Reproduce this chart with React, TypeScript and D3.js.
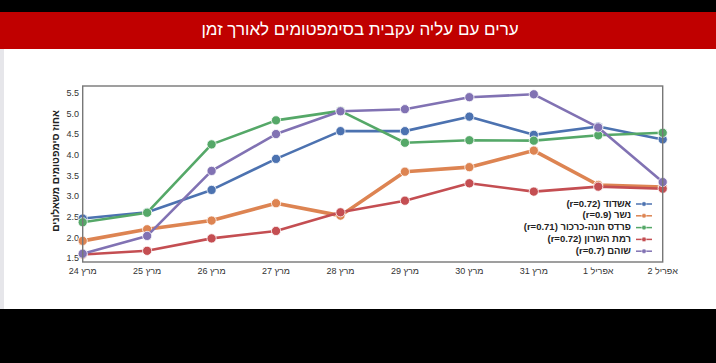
import * as React from 'react'
import * as d3 from 'd3'

const DATES = ['מרץ 24', 'מרץ 25', 'מרץ 26', 'מרץ 27', 'מרץ 28', 'מרץ 29', 'מרץ 30', 'מרץ 31', 'אפריל 1', 'אפריל 2']
const Y_TICKS = [1.5, 2.0, 2.5, 3.0, 3.5, 4.0, 4.5, 5.0, 5.5]

const ashdod = [2.48, 2.63, 3.17, 3.92, 4.59, 4.59, 4.94, 4.50, 4.70, 4.39]
const nesher = [1.94, 2.22, 2.43, 2.85, 2.55, 3.61, 3.72, 4.12, 3.29, 3.24]
const pardesHana = [2.39, 2.62, 4.27, 4.85, 5.08, 4.31, 4.37, 4.36, 4.49, 4.55]
const ramatHasharon = [1.61, 1.70, 2.00, 2.18, 2.63, 2.91, 3.33, 3.13, 3.25, 3.20]
const shoham = [1.63, 2.06, 3.63, 4.52, 5.07, 5.12, 5.41, 5.48, 4.68, 3.36]

const SERIES_NAMES = ['אשדוד (r=0.72)', 'נשר (r=0.9)', 'פרדס חנה-כרכור (r=0.71)', 'רמת השרון (r=0.72)', 'שוהם (r=0.7)']
const SERIES_VALUES = [ashdod, nesher, pardesHana, ramatHasharon, shoham]
const COLORS = ['#4C72B0', '#DD8452', '#55A868', '#C44E52', '#8172B3']

const TITLE = 'ערים עם עליה עקבית בסימפטומים לאורך זמן'
const Y_LABEL = 'אחוז סימפטומים משאלונים'

// bidi: put the (r=..) part first so it lands on the left like the original
const legendText = (s: string) => {
    const i = s.indexOf(' (')
    return s.slice(i + 1) + ' ' + s.slice(0, i)
}

export default function App() {
    const W = 716
    const H = 363
    const left = 82.7
    const right = 662.7
    const top = 86
    const bottom = 262
    const FONT = '"Liberation Sans", Arial, sans-serif'

    const x = d3.scalePoint<string>().domain(DATES).range([left, right])
    const y = d3.scaleLinear().domain([1.43, 5.68]).range([bottom, top])

    const line = d3.line<number>()
        .x((_, i) => x(DATES[i]) as number)
        .y(d => y(d))

    return <svg width={W} height={H} viewBox={`0 0 ${W} ${H}`}
        style={{ position: 'absolute', left: 0, top: 0, background: '#fff' }}
        fontFamily={FONT}>
        <rect x={0} y={0} width={W} height={12} fill="#000" />
        <rect x={0} y={12} width={W} height={37} fill="#C00000" />
        <text x={360} y={31} fill="#fff" fontSize={17} textAnchor="middle" dominantBaseline="middle">{TITLE}</text>
        <rect x={0} y={49} width={4} height={261} fill="#e6e6ea" />
        <rect x={0} y={309} width={W} height={H - 309} fill="#000" />

        {/* y axis */}
        {Y_TICKS.map(t =>
            <text key={t} x={79} y={y(t)} fontSize={9} fill="#333" textAnchor="end" dominantBaseline="middle">{t.toFixed(1)}</text>
        )}
        <text transform={`translate(56 ${171}) rotate(-90)`} fontSize={10} fill="#222" textAnchor="middle" dominantBaseline="middle" fontWeight="bold">{Y_LABEL}</text>

        {/* x axis */}
        {DATES.map(d =>
            <text key={d} x={(x(d) as number)} y={272} fontSize={9} fill="#333" textAnchor="middle" dominantBaseline="middle">{d}</text>
        )}

        {/* series */}
        {SERIES_VALUES.map((vals, si) =>
            <g key={si}>
                <path d={line(vals) || ''} fill="none" stroke={COLORS[si]} strokeWidth={si === 1 ? 3.6 : 2.6} strokeLinejoin="round" />
                {vals.map((v, i) =>
                    <circle key={i} cx={x(DATES[i]) as number} cy={y(v)} r={4.6} fill={COLORS[si]} stroke="#fff" strokeWidth={0.8} />
                )}
            </g>
        )}

        <rect x={left} y={top} width={right - left} height={bottom - top} fill="none" stroke="#777" strokeWidth={1.4} />

        {/* legend */}
        {SERIES_NAMES.map((name, i) => {
            const ly = 204 + i * 11.8
            return <g key={name}>
                <line x1={636} x2={652} y1={ly} y2={ly} stroke={COLORS[i]} strokeWidth={1.5} />
                <circle cx={644} cy={ly} r={2.3} fill={COLORS[i]} stroke="#fff" strokeWidth={0.5} />
                <text x={631} y={ly} fontSize={9.5} fontWeight="bold" fill="#222" textAnchor="end" dominantBaseline="middle">{legendText(name)}</text>
            </g>
        })}
    </svg>
}
